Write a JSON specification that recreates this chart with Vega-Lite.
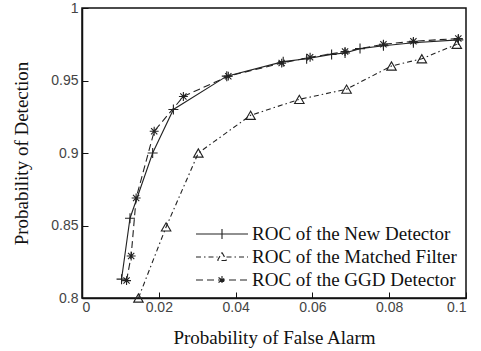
{
  "$schema": "https://vega.github.io/schema/vega-lite/v6.json",
  "width": 384,
  "height": 290,
  "autosize": {"type": "none"},
  "padding": {"left": 82, "top": 8, "right": 15, "bottom": 53},
  "background": "white",
  "config": {
    "view": {"stroke": "#111", "strokeWidth": 1.5},
    "axis": {
      "labelFont": "Liberation Sans",
      "labelFontSize": 14,
      "labelColor": "#444",
      "titleFont": "Liberation Serif",
      "titleFontSize": 19,
      "titleFontWeight": "normal",
      "titleColor": "#111",
      "domainColor": "#111",
      "domainWidth": 1.5,
      "tickColor": "#111",
      "tickSize": -6,
      "grid": false
    },
    "legend": {
      "labelFont": "Liberation Serif",
      "labelFontSize": 19,
      "labelColor": "#111",
      "labelLimit": 0,
      "padding": 0
    }
  },
  "data": {
    "values": [
      {"s": "ROC of the New Detector", "x": 0.0103, "y": 0.813},
      {"s": "ROC of the New Detector", "x": 0.0125, "y": 0.855},
      {"s": "ROC of the New Detector", "x": 0.0184, "y": 0.9},
      {"s": "ROC of the New Detector", "x": 0.0238, "y": 0.93},
      {"s": "ROC of the New Detector", "x": 0.0377, "y": 0.953},
      {"s": "ROC of the New Detector", "x": 0.0524, "y": 0.963},
      {"s": "ROC of the New Detector", "x": 0.0585, "y": 0.965},
      {"s": "ROC of the New Detector", "x": 0.065, "y": 0.968},
      {"s": "ROC of the New Detector", "x": 0.0685, "y": 0.969},
      {"s": "ROC of the New Detector", "x": 0.0724, "y": 0.972},
      {"s": "ROC of the New Detector", "x": 0.0785, "y": 0.974},
      {"s": "ROC of the New Detector", "x": 0.0863, "y": 0.976},
      {"s": "ROC of the New Detector", "x": 0.098, "y": 0.978},
      {"s": "ROC of the Matched Filter", "x": 0.0147, "y": 0.8},
      {"s": "ROC of the Matched Filter", "x": 0.0219, "y": 0.849},
      {"s": "ROC of the Matched Filter", "x": 0.0303, "y": 0.9},
      {"s": "ROC of the Matched Filter", "x": 0.0439, "y": 0.926},
      {"s": "ROC of the Matched Filter", "x": 0.0566, "y": 0.937},
      {"s": "ROC of the Matched Filter", "x": 0.0689, "y": 0.944},
      {"s": "ROC of the Matched Filter", "x": 0.0806, "y": 0.96},
      {"s": "ROC of the Matched Filter", "x": 0.0885, "y": 0.965},
      {"s": "ROC of the Matched Filter", "x": 0.0976, "y": 0.975},
      {"s": "ROC of the GGD Detector", "x": 0.0116, "y": 0.812},
      {"s": "ROC of the GGD Detector", "x": 0.0128, "y": 0.829},
      {"s": "ROC of the GGD Detector", "x": 0.0141, "y": 0.869},
      {"s": "ROC of the GGD Detector", "x": 0.0188, "y": 0.915},
      {"s": "ROC of the GGD Detector", "x": 0.0264, "y": 0.939},
      {"s": "ROC of the GGD Detector", "x": 0.0381, "y": 0.953},
      {"s": "ROC of the GGD Detector", "x": 0.052, "y": 0.962},
      {"s": "ROC of the GGD Detector", "x": 0.0594, "y": 0.966},
      {"s": "ROC of the GGD Detector", "x": 0.0685, "y": 0.97},
      {"s": "ROC of the GGD Detector", "x": 0.0785, "y": 0.975},
      {"s": "ROC of the GGD Detector", "x": 0.0863, "y": 0.977},
      {"s": "ROC of the GGD Detector", "x": 0.098, "y": 0.979}
    ]
  },
  "encoding": {
    "x": {
      "field": "x",
      "type": "quantitative",
      "scale": {"domain": [0, 0.1], "nice": false, "zero": false},
      "axis": {
        "title": "Probability of False Alarm",
        "values": [0, 0.02, 0.04, 0.06, 0.08, 0.1],
        "format": ".2~f",
        "labelPadding": 8,
        "titlePadding": 14
      }
    },
    "y": {
      "field": "y",
      "type": "quantitative",
      "scale": {"domain": [0.8, 1], "nice": false, "zero": false},
      "axis": {
        "title": "Probability of Detection",
        "values": [0.8, 0.85, 0.9, 0.95, 1],
        "format": ".2~f",
        "labelPadding": 10,
        "titlePadding": 19
      }
    },
    "color": {
      "field": "s",
      "type": "nominal",
      "scale": {
        "domain": ["ROC of the New Detector", "ROC of the Matched Filter", "ROC of the GGD Detector"],
        "range": ["#222222", "#222222", "#222222"]
      },
      "legend": {
        "title": null,
        "orient": "none",
        "legendX": 129,
        "legendY": 215,
        "symbolSize": 400,
        "rowPadding": 2,
        "labelOffset": 19,
        "encode": {
          "symbols": {
            "update": {
              "shape": {"signal": "datum.value === 'ROC of the New Detector' ? 'M-2.6,0H2.6M0,-0.5V0.5' : datum.value === 'ROC of the Matched Filter' ? 'M-2.6,0H-0.45M0.45,0H2.6M0,-0.45L0.45,0.35M0.45,0.35H-0.45M-0.45,0.35L0,-0.45' : 'M-2.6,0H2.6M0,-0.4V0.4M-0.35,-0.25L0.35,0.25M-0.35,0.25L0.35,-0.25'"},
              "strokeDash": {"signal": "datum.value === 'ROC of the New Detector' ? [1, 0] : datum.value === 'ROC of the Matched Filter' ? [5, 3, 1.5, 3] : [7, 4]"},
              "fill": {"value": "transparent"},
              "stroke": {"value": "#222222"},
              "strokeWidth": {"value": 1.1},
              "opacity": {"value": 1}
            }
          }
        }
      }
    }
  },
  "layer": [
    {
      "transform": [{"filter": "datum.s === 'ROC of the New Detector'"}],
      "mark": {"type": "line", "strokeWidth": 1.1},
      "encoding": {}
    },
    {
      "transform": [{"filter": "datum.s === 'ROC of the Matched Filter'"}],
      "mark": {"type": "line", "strokeWidth": 1.1, "strokeDash": [5, 3, 1.5, 3]},
      "encoding": {}
    },
    {
      "transform": [{"filter": "datum.s === 'ROC of the GGD Detector'"}],
      "mark": {"type": "line", "strokeWidth": 1.1, "strokeDash": [7, 4]},
      "encoding": {}
    },
    {
      "transform": [{"filter": "datum.s === 'ROC of the New Detector'"}],
      "mark": {"type": "point", "filled": false, "strokeWidth": 1.1, "opacity": 1, "size": 100, "shape": "M-1,0H1M0,-1V1"},
      "encoding": {}
    },
    {
      "transform": [{"filter": "datum.s === 'ROC of the Matched Filter'"}],
      "mark": {"type": "point", "filled": false, "strokeWidth": 1.1, "opacity": 1, "size": 90, "shape": "triangle-up"},
      "encoding": {}
    },
    {
      "transform": [{"filter": "datum.s === 'ROC of the GGD Detector'"}],
      "mark": {"type": "point", "filled": false, "strokeWidth": 1.1, "opacity": 1, "size": 80, "shape": "M-1,0H1M0,-1V1M-0.7,-0.7L0.7,0.7M-0.7,0.7L0.7,-0.7"},
      "encoding": {}
    }
  ]
}
